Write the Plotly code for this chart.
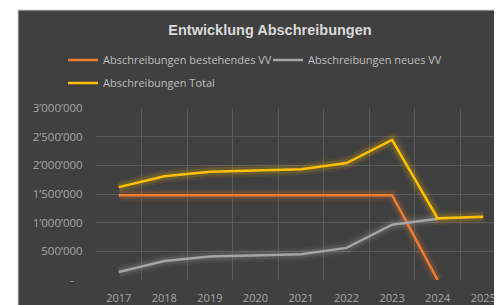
import plotly.graph_objects as go

years = ["2017", "2018", "2019", "2020", "2021", "2022", "2023", "2024", "2025"]
bestehend = [1480000, 1480000, 1480000, 1480000, 1480000, 1480000, 1480000, 0, None]
neu = [140000, 330000, 410000, 430000, 450000, 560000, 965000, 1070000, None]
total = [1620000, 1810000, 1890000, 1910000, 1930000, 2040000, 2445000, 1075000, 1105000]

y_tickvals = [0, 500000, 1000000, 1500000, 2000000, 2500000, 3000000]
y_ticktext = ["-\u00a0\u00a0\u00a0", "500’000", "1’000’000", "1’500’000", "2’000’000", "2’500’000", "3’000’000"]

series = [
    ("Abschreibungen bestehendes VV", bestehend, "#ED7D31", "legend"),
    ("Abschreibungen neues VV", neu, "#A5A5A5", "legend"),
    ("Abschreibungen Total", total, "#FFC000", "legend2"),
]

# page shows figure offset by 8px body margin; work in figure pixel coords
OFF = 8
W, H = 502, 305
L, T = 96 - OFF, 108 - OFF
R = W - (506 - OFF)
B = H - (280 - OFF)
pw, ph = W - L - R, H - T - B

def px_x(p):
    return (p - OFF - L) / pw

def px_y(p):
    return (H - B - (p - OFF)) / ph

fig = go.Figure()
# glow underlays
for name, vals, col, lg in series:
    for w, op in [(13, 0.07), (8, 0.14)]:
        fig.add_trace(go.Scatter(x=years, y=vals, mode="lines", line=dict(color=col, width=w),
                                 opacity=op, showlegend=False, hoverinfo="skip"))
for name, vals, col, lg in series:
    fig.add_trace(go.Scatter(x=years, y=vals, name=name, mode="lines",
                             line=dict(color=col, width=2.5), legend=lg))

bg = "#404040"
txt = "#a6a6a6"
font = "Open Sans"

fig.update_layout(
    width=W, height=H,
    margin=dict(l=L, r=R, t=T, b=B, autoexpand=False),
    paper_bgcolor=bg, plot_bgcolor=bg,
    title=dict(text="<b>Entwicklung Abschreibungen</b>", x=(270 - OFF) / W, xref="container", xanchor="center",
               y=1 - (30 - OFF) / H, yref="container", yanchor="middle", automargin=False,
               font=dict(family="Liberation Sans", size=14.5, color="#d9d9d9")),
    legend=dict(orientation="h", x=px_x(63), xanchor="left", y=px_y(60), yanchor="middle",
                bgcolor="rgba(0,0,0,0)", font=dict(family=font, size=11, color="#bfbfbf"),
                itemwidth=30, tracegroupgap=0, entrywidth=160),
    legend2=dict(orientation="h", x=px_x(63), xanchor="left", y=px_y(83), yanchor="middle",
                 bgcolor="rgba(0,0,0,0)", font=dict(family=font, size=11, color="#bfbfbf"),
                 itemwidth=30),
    xaxis=dict(type="category", tickson="boundaries", showgrid=True, gridcolor="#5a5a5a", gridwidth=1,
               range=[-0.5, 8.5], tickfont=dict(family=font, size=11, color=txt),
               ticks="", ticklabelstandoff=10, showline=False, zeroline=False,
               automargin=False),
    yaxis=dict(range=[0, 3000000], tickvals=y_tickvals, ticktext=y_ticktext, showgrid=True,
               gridcolor="#5a5a5a", gridwidth=1, zeroline=False, automargin=False,
               tickfont=dict(family=font, size=11.5, color=txt),
               ticks="outside", ticklen=10, tickcolor="rgba(0,0,0,0)"),
    shapes=[
        dict(type="rect", xref="paper", yref="paper", x0=px_x(-20), x1=px_x(18), y0=px_y(H + 20), y1=px_y(-20),
             fillcolor="white", line=dict(width=0), layer="above"),
        dict(type="rect", xref="paper", yref="paper", x0=px_x(-20), x1=px_x(W + 20), y0=px_y(10), y1=px_y(-20),
             fillcolor="white", line=dict(width=0), layer="above"),
        dict(type="line", xref="paper", yref="paper", x0=px_x(18), x1=px_x(W + 20), y0=px_y(10), y1=px_y(10),
             line=dict(color="#cfcfcf", width=1), layer="above"),
        dict(type="line", xref="paper", yref="paper", x0=px_x(18), x1=px_x(18), y0=px_y(10), y1=px_y(H + 20),
             line=dict(color="#cfcfcf", width=1), layer="above"),
    ],
)

fig.write_html("out.html")
